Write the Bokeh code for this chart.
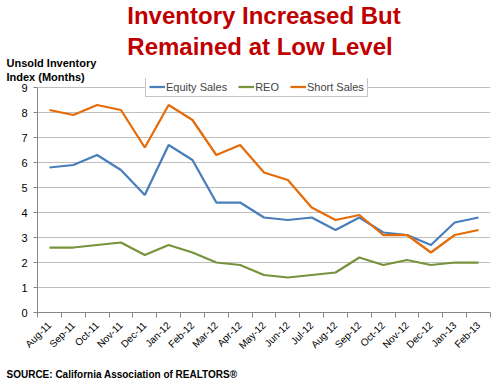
from math import pi
from bokeh.plotting import figure
from bokeh.models import FixedTicker, Legend, LegendItem, Range1d, Title
from bokeh.embed import file_html
from bokeh.resources import INLINE

months = ["Aug-11", "Sep-11", "Oct-11", "Nov-11", "Dec-11", "Jan-12", "Feb-12",
          "Mar-12", "Apr-12", "May-12", "Jun-12", "Jul-12", "Aug-12", "Sep-12",
          "Oct-12", "Nov-12", "Dec-12", "Jan-13", "Feb-13"]
equity_sales = [5.8, 5.9, 6.3, 5.7, 4.7, 6.7, 6.1, 4.4, 4.4, 3.8, 3.7, 3.8, 3.3,
                3.8, 3.2, 3.1, 2.7, 3.6, 3.8]
reo = [2.6, 2.6, 2.7, 2.8, 2.3, 2.7, 2.4, 2.0, 1.9, 1.5, 1.4, 1.5, 1.6, 2.2,
       1.9, 2.1, 1.9, 2.0, 2.0]
short_sales = [8.1, 7.9, 8.3, 8.1, 6.6, 8.3, 7.7, 6.3, 6.7, 5.6, 5.3, 4.2, 3.7,
               3.9, 3.1, 3.1, 2.4, 3.1, 3.3]
y_ticks = [0, 1, 2, 3, 4, 5, 6, 7, 8, 9]

FONT = "Liberation Sans"
xs = list(range(len(months)))

p = figure(width=500, height=389, output_backend="svg", toolbar_location=None,
           x_range=Range1d(-0.5, len(months) - 0.5),
           y_range=Range1d(y_ticks[0], y_ticks[-1] + 0.36),
           min_border_left=37, min_border_right=10, min_border_top=78,
           min_border_bottom=77)
p.outline_line_color = None
p.xgrid.grid_line_color = None
p.ygrid.grid_line_color = "#BFBFBF"
p.ygrid.grid_line_width = 1
p.ygrid.ticker = FixedTicker(ticks=y_ticks)

# y axis
p.yaxis.ticker = FixedTicker(ticks=y_ticks)
p.yaxis.bounds = (y_ticks[0], y_ticks[-1])
p.yaxis.axis_line_color = "#868686"
p.yaxis.major_tick_line_color = "#868686"
p.yaxis.major_tick_out = 4
p.yaxis.major_tick_in = 0
p.yaxis.minor_tick_line_color = None
p.yaxis.major_label_standoff = 6
p.yaxis.major_label_text_font = FONT
p.yaxis.major_label_text_font_size = "11px"
p.yaxis.major_label_text_color = "#000000"

# x axis
p.xaxis.ticker = FixedTicker(ticks=xs, minor_ticks=[i - 0.5 for i in range(len(months) + 1)])
p.xaxis.major_label_overrides = {i: m for i, m in enumerate(months)}
p.xaxis.major_label_orientation = pi / 4
p.xaxis.axis_line_color = "#868686"
p.xaxis.major_tick_line_color = None
p.xaxis.minor_tick_line_color = "#868686"
p.xaxis.minor_tick_out = 5
p.xaxis.minor_tick_in = 0
p.xaxis.major_label_standoff = 5
p.xaxis.major_label_text_font = FONT
p.xaxis.major_label_text_font_size = "10px"
p.xaxis.major_label_text_color = "#000000"

r1 = p.line(xs, equity_sales, line_color="#4A7EBB", line_width=2.25)
r2 = p.line(xs, reo, line_color="#77933C", line_width=2.25)
r3 = p.line(xs, short_sales, line_color="#E46C0A", line_width=2.25)

legend = Legend(items=[LegendItem(label="Equity Sales", renderers=[r1]),
                       LegendItem(label="REO", renderers=[r2]),
                       LegendItem(label="Short Sales", renderers=[r3])],
                orientation="horizontal", location=(108, 215))
legend.border_line_color = "#8C8C8C"
legend.border_line_width = 1
legend.background_fill_color = "white"
legend.background_fill_alpha = 1
legend.label_text_font = FONT
legend.label_text_font_size = "11px"
legend.glyph_width = 16
legend.glyph_height = 13
legend.label_height = 13
legend.label_standoff = 1
legend.spacing = 11
legend.padding = 3
legend.margin = 0
p.add_layout(legend)

# axis caption just above the frame (closest panel), then the main title
p.add_layout(Title(text="Unsold Inventory\nIndex (Months)", align="left", offset=-31,
                   text_font=FONT, text_font_size="11px", text_font_style="bold",
                   text_color="#000000", text_line_height=1.15, standoff=-9,
                   vertical_align="bottom"), "above")
p.add_layout(Title(text="Inventory Increased But\nRemained at Low Level", align="center",
                   text_font=FONT, text_font_size="24px", text_font_style="bold",
                   text_color="#C00000", text_line_height=1.15, standoff=-1,
                   vertical_align="bottom"), "above")
p.add_layout(Title(text="SOURCE: California Association of REALTORS\u00ae", align="left",
                   offset=-31, text_font=FONT, text_font_size="10px",
                   text_font_style="bold", text_color="#000000", standoff=19,
                   vertical_align="bottom"), "below")

open("out.html", "w").write(file_html(p, INLINE))
